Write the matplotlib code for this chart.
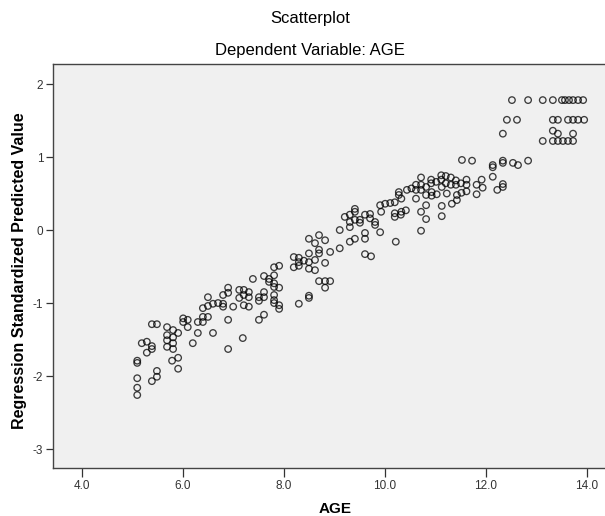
import matplotlib
matplotlib.use("Agg")
import matplotlib.pyplot as plt

plt.rcParams['font.family'] = ['Liberation Sans', 'DejaVu Sans']

# AGE (x) vs Regression Standardized Predicted Value (y)
age = [
    5.10, 5.10, 5.10, 5.10, 5.10, 5.19, 5.29, 5.29, 5.39, 5.39, 5.39, 5.39, 5.49, 5.49, 5.49,
    5.69, 5.69, 5.69, 5.69, 5.79, 5.81, 5.81, 5.81, 5.81, 5.91, 5.91, 5.91,
    6.01, 6.01, 6.10, 6.10, 6.20, 6.30, 6.30, 6.60, 7.19, 6.90,
    10.28, 10.28, 10.20, 10.20, 10.22, 9.91, 10.01, 10.11, 10.20, 9.93,
    9.41, 9.41, 9.31, 9.21, 9.31, 9.31, 9.41, 9.61, 9.71, 9.71, 9.81, 9.81, 9.51, 9.51,
    9.11, 9.61, 9.61, 9.91, 9.41, 9.31, 9.11, 9.61, 9.73,
    8.50, 8.70, 8.62, 8.82, 8.70, 8.70, 8.92, 8.82, 8.50, 8.50, 8.62, 8.62, 8.50,
    8.20, 8.30, 8.30, 8.40, 8.20, 8.30, 8.70, 8.82, 8.92, 8.82, 8.50, 8.50, 8.30,
    7.81, 7.91, 7.81, 7.39, 7.61, 7.71, 7.71, 7.81, 7.91, 7.81, 7.61, 7.61, 7.51, 7.51,
    7.81, 7.81, 7.81, 7.91, 7.91, 7.21, 7.31, 7.31, 7.21, 7.12, 7.12, 7.21, 7.31, 7.00,
    6.90, 6.90, 6.80, 6.80, 6.80, 6.70, 6.60, 6.50, 6.50, 6.40, 6.50, 6.40, 6.40,
    6.90, 7.51, 7.61,
    12.52, 12.84, 13.13, 13.33, 13.51, 13.57, 13.65, 13.73, 13.83, 13.93,
    12.42, 12.62, 13.33, 13.43, 13.63, 13.73, 13.83, 13.95,
    12.34, 13.33, 13.43, 13.73,
    13.13, 13.33, 13.43, 13.53, 13.63, 13.73,
    11.53, 11.73, 12.14, 12.14, 12.34, 12.34, 12.54, 12.64, 12.84,
    10.33, 10.33, 10.42, 10.32, 10.44, 10.53, 10.62, 10.62, 10.62, 10.72, 10.72, 10.72,
    10.82, 10.82, 10.92, 10.92, 10.93, 10.93, 11.02, 11.03, 11.12, 11.12, 11.13, 11.21,
    11.21, 11.23, 11.31, 11.31, 11.41, 11.41, 11.43, 11.43, 11.33, 11.51, 11.52, 11.62,
    11.62, 11.62, 11.82, 11.82, 11.92, 11.94, 12.14, 12.34, 12.34, 12.23,
    10.72, 10.82, 10.82, 11.13, 11.13, 10.72,
]
pred = [
    -1.79, -1.82, -2.03, -2.16, -2.26, -1.55, -1.53, -1.68, -1.29, -1.59, -1.63, -2.07, -1.29, -1.93, -2.01,
    -1.33, -1.44, -1.51, -1.60, -1.79, -1.37, -1.47, -1.55, -1.63, -1.41, -1.75, -1.90,
    -1.21, -1.26, -1.23, -1.33, -1.55, -1.26, -1.41, -1.41, -1.48, -1.63,
    0.52, 0.48, 0.23, 0.18, -0.16, 0.34, 0.36, 0.37, 0.38, 0.25,
    0.29, 0.25, 0.21, 0.18, 0.11, 0.04, 0.14, 0.21, 0.22, 0.16, 0.11, 0.07, 0.14, 0.10,
    0.00, -0.04, -0.12, -0.03, -0.12, -0.16, -0.25, -0.33, -0.36,
    -0.12, -0.07, -0.18, -0.14, -0.27, -0.32, -0.30, -0.45, -0.32, -0.44, -0.41, -0.55, -0.53,
    -0.37, -0.38, -0.44, -0.42, -0.51, -0.49, -0.70, -0.70, -0.70, -0.79, -0.90, -0.93, -1.01,
    -0.51, -0.49, -0.62, -0.67, -0.63, -0.67, -0.71, -0.73, -0.79, -0.78, -0.85, -0.92, -0.92, -0.97,
    -0.89, -0.96, -1.00, -1.03, -1.08, -0.82, -0.85, -0.92, -0.89, -0.82, -0.93, -1.03, -1.05, -1.05,
    -0.79, -0.86, -0.89, -1.01, -1.05, -1.00, -1.01, -1.04, -0.92, -1.07, -1.19, -1.19, -1.26,
    -1.23, -1.23, -1.16,
    1.78, 1.78, 1.78, 1.78, 1.78, 1.78, 1.78, 1.78, 1.78, 1.78,
    1.51, 1.51, 1.51, 1.51, 1.51, 1.51, 1.51, 1.51,
    1.32, 1.36, 1.32, 1.32,
    1.22, 1.22, 1.22, 1.22, 1.22, 1.22,
    0.96, 0.95, 0.89, 0.86, 0.95, 0.92, 0.92, 0.89, 0.95,
    0.43, 0.25, 0.27, 0.21, 0.55, 0.57, 0.62, 0.55, 0.43, 0.72, 0.62, 0.55,
    0.59, 0.48, 0.69, 0.64, 0.52, 0.47, 0.66, 0.49, 0.75, 0.69, 0.59, 0.74,
    0.64, 0.50, 0.72, 0.62, 0.68, 0.62, 0.48, 0.41, 0.36, 0.64, 0.51, 0.69,
    0.62, 0.53, 0.62, 0.49, 0.69, 0.58, 0.73, 0.63, 0.59, 0.55,
    0.25, 0.34, 0.15, 0.33, 0.19, -0.01,
]

x_ticks = [4.0, 6.0, 8.0, 10.0, 12.0, 14.0]
y_ticks = [-3, -2, -1, 0, 1, 2]

fig = plt.figure(figsize=(6.05, 5.16), dpi=100)
ax = fig.add_axes([0.0876, 0.093, 0.9322, 0.7829])
ax.set_facecolor('#f0f0f0')

ax.scatter(age, pred, s=22, facecolors='none', edgecolors='black',
           linewidths=0.95, alpha=0.75)

ax.set_xlim(3.432, 14.60)
ax.set_ylim(-3.26, 2.274)

ax.set_xticks(x_ticks)
ax.set_xticklabels([f"{t:.1f}" for t in x_ticks])
ax.set_yticks(y_ticks)
ax.set_yticklabels([str(t) for t in y_ticks])
ax.tick_params(direction='out', length=5, width=0.9, colors='#333333',
               labelsize=8.5, pad=2)
ax.tick_params(axis='x', length=6.5, pad=2)

for side in ['left', 'bottom', 'top', 'right']:
    ax.spines[side].set_color('#444444')
    ax.spines[side].set_linewidth(1.0)

fig.text(310 / 605, 1 - 19 / 516, "Scatterplot", ha='center', va='center',
         fontsize=12, color='black')
fig.text(310 / 605, 1 - 50 / 516, "Dependent Variable: AGE", ha='center',
         va='center', fontsize=12, color='black')
fig.text(335 / 605, 1 - 509 / 516, "AGE", ha='center', va='center',
         fontsize=11, fontweight='bold')
fig.text(20 / 605, 1 - 271 / 516, "Regression Standardized Predicted Value",
         ha='center', va='center', rotation=90, fontsize=11.5, fontweight='bold')

plt.savefig("out.png", dpi=100)
